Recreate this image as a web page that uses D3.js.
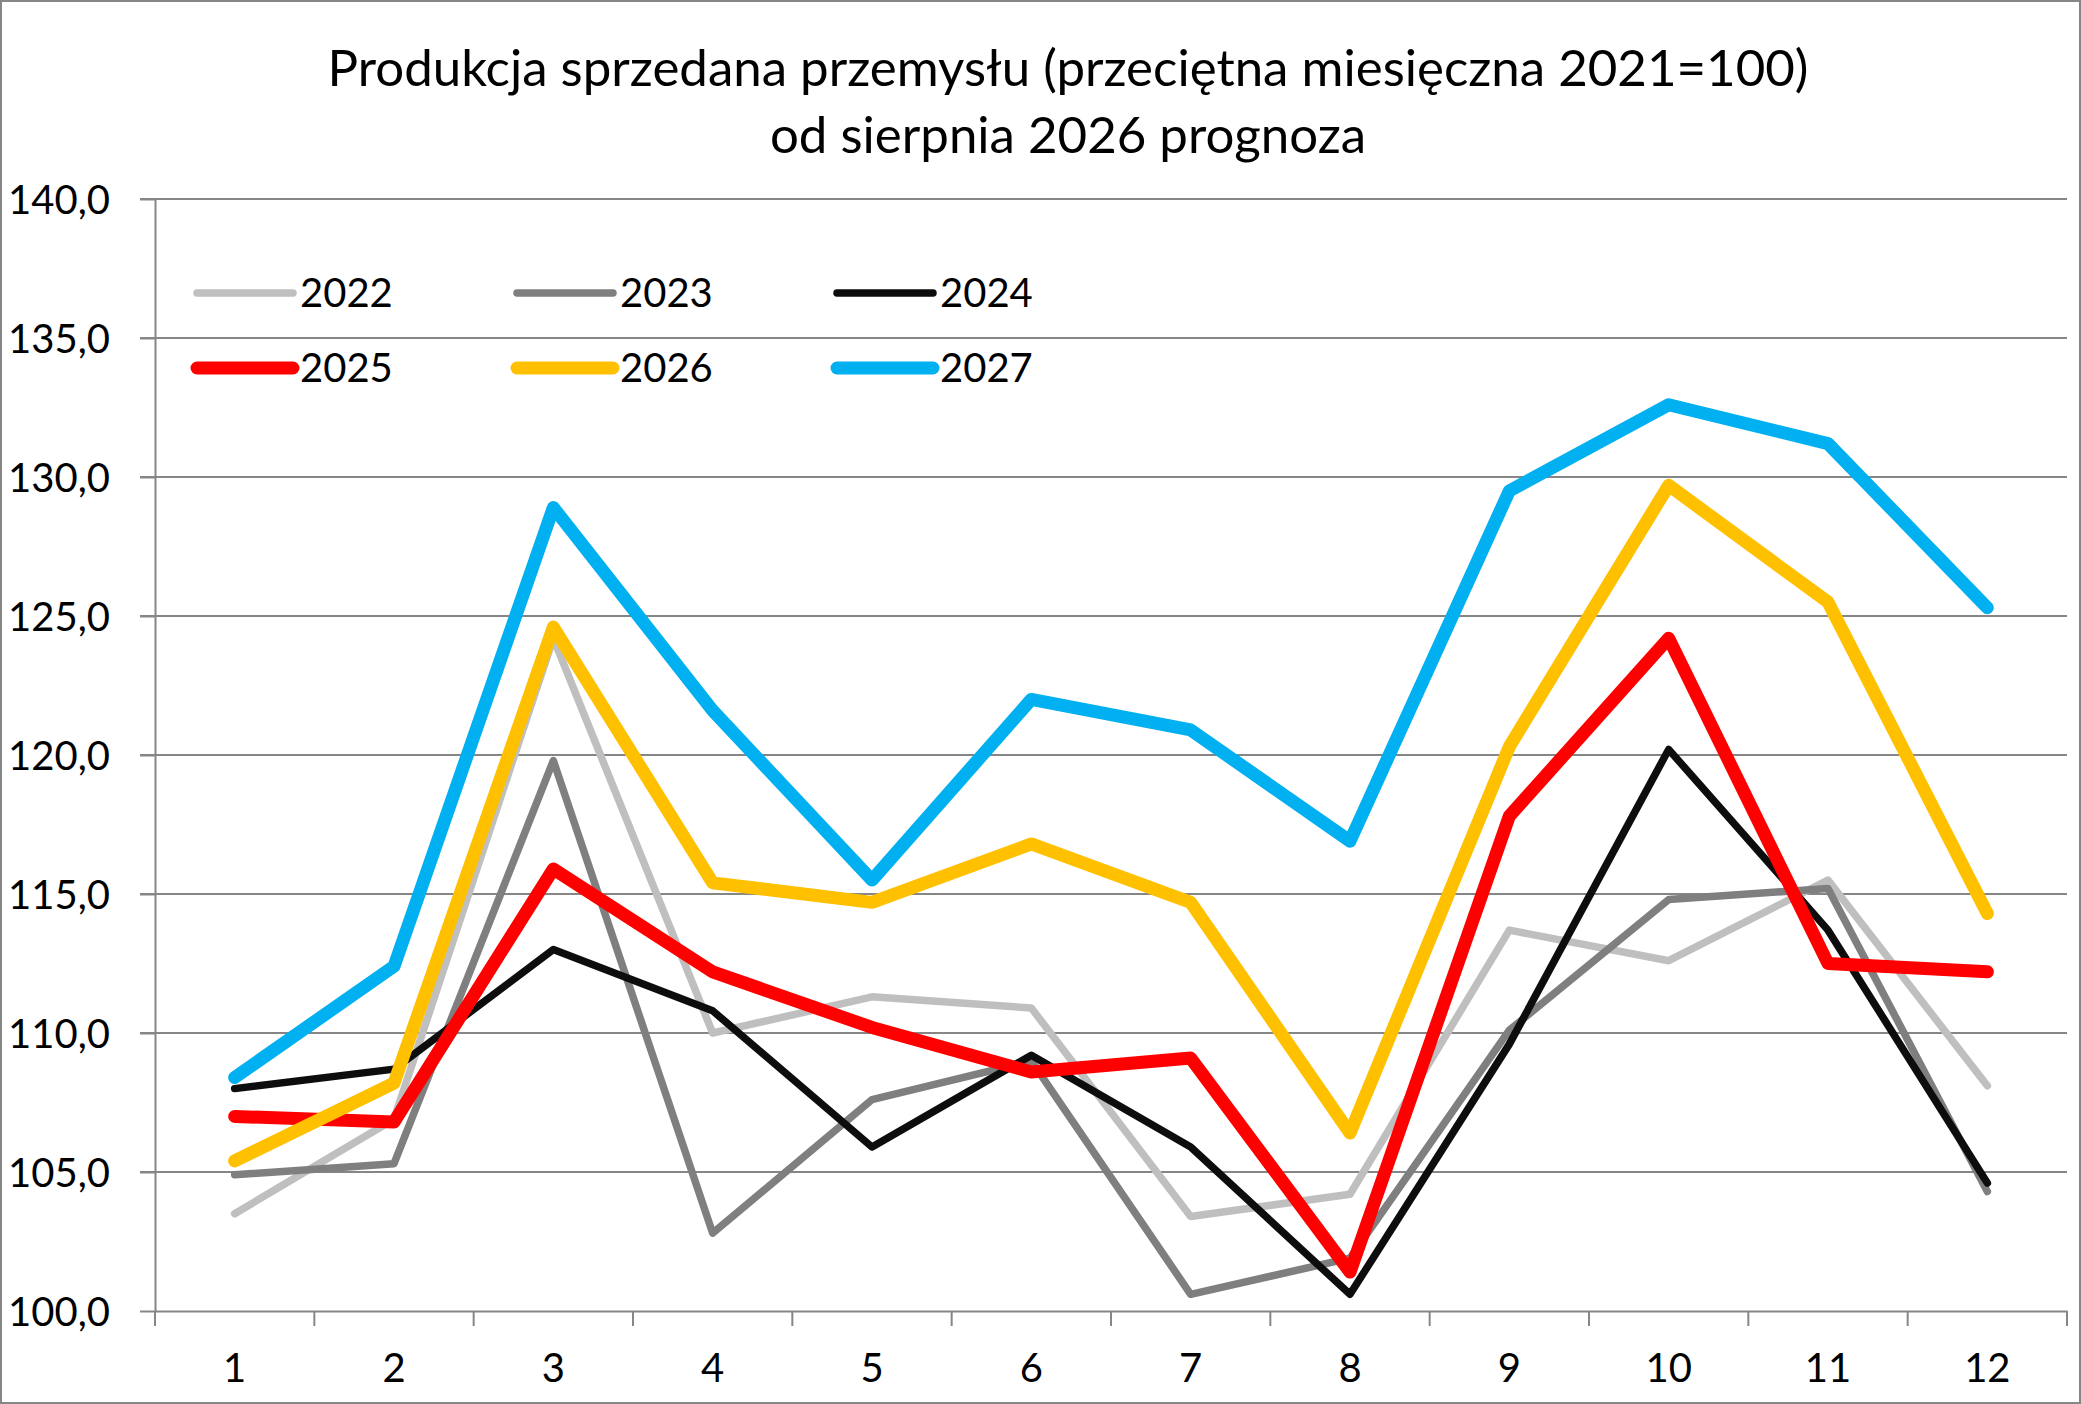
<!DOCTYPE html>
<html lang="pl">
<head>
  <meta charset="UTF-8">
  <title>Produkcja sprzedana przemysłu</title>
  <script src="https://d3js.org/d3.v7.min.js"></script>
  <style>
    body { margin: 0; background: #fff; }
    svg { display: block; font-family: Lato, "Open Sans", sans-serif; }
    .grid line { stroke: #868686; stroke-width: 2px; }
    .axis path, .axis line { stroke: #868686; stroke-width: 2px; }
    .axis text { fill: #000; font-size: 40px; font-family: Lato, "Open Sans", sans-serif; }
    .series { fill: none; stroke-linejoin: round; stroke-linecap: round; }
  </style>
</head>
<body>
<svg width="2081" height="1404"></svg>
<script>
  // miesiące i serie
  const months = [1, 2, 3, 4, 5, 6, 7, 8, 9, 10, 11, 12];
  const years = ["2022", "2023", "2024", "2025", "2026", "2027"];
  const d2022 = [103.5, 106.9, 124.2, 110.0, 111.3, 110.9, 103.4, 104.2, 113.7, 112.6, 115.5, 108.1];
  const d2023 = [104.9, 105.3, 119.8, 102.8, 107.6, 109.0, 100.6, 101.9, 110.1, 114.8, 115.2, 104.3];
  const d2024 = [108.0, 108.7, 113.0, 110.8, 105.9, 109.2, 105.9, 100.6, 109.6, 120.2, 113.7, 104.6];
  const d2025 = [107.0, 106.8, 115.9, 112.2, 110.2, 108.6, 109.1, 101.4, 117.8, 124.2, 112.5, 112.2];
  const d2026 = [105.4, 108.2, 124.6, 115.4, 114.7, 116.8, 114.7, 106.4, 120.3, 129.7, 125.5, 114.3];
  const d2027 = [108.4, 112.4, 128.9, 121.6, 115.5, 122.0, 120.9, 116.9, 129.5, 132.6, 131.2, 125.3];
  const yTicks = [100, 105, 110, 115, 120, 125, 130, 135, 140];
  const colors = ["#BFBFBF", "#7F7F7F", "#0D0D0D", "#FF0000", "#FFC000", "#00B0F0"];
  const widths = [7.5, 7.5, 7.5, 13, 13, 13];
  const seriesValues = [d2022, d2023, d2024, d2025, d2026, d2027];

  const svg = d3.select("svg");
  const W = 2081, H = 1404;
  const margin = {top: 199, right: 14, bottom: 93, left: 155};
  const width = W - margin.left - margin.right,
        height = H - margin.top - margin.bottom;

  // ramka wykresu
  svg.append("rect")
    .attr("x", 1).attr("y", 1).attr("width", W - 2).attr("height", H - 2)
    .attr("fill", "#fff").attr("stroke", "#868686").attr("stroke-width", 2);

  // tytuł
  const title = svg.append("text")
    .attr("x", 1068).attr("y", 86)
    .attr("text-anchor", "middle")
    .attr("font-size", 51)
    .attr("fill", "#000");
  title.append("tspan").attr("x", 1068).text("Produkcja sprzedana przemysłu (przeciętna miesięczna 2021=100)");
  title.append("tspan").attr("x", 1068).attr("dy", 67).text("od sierpnia 2026 prognoza");

  const g = svg.append("g").attr("transform", `translate(${margin.left},${margin.top})`);

  const x = d3.scaleBand().domain(months).range([0, width]);
  const y = d3.scaleLinear().domain([100, 140]).range([height, 0]);

  // linie siatki
  g.append("g").attr("class", "grid")
    .selectAll("line")
    .data(yTicks.filter(d => d > 100))
    .join("line")
    .attr("x1", -15).attr("x2", width)
    .attr("y1", d => y(d)).attr("y2", d => y(d));

  // oś Y
  const yAxis = g.append("g").attr("class", "axis")
    .call(d3.axisLeft(y).tickValues(yTicks).tickSize(15).tickSizeOuter(0)
      .tickFormat(d => d3.format(".1f")(d).replace(".", ",")));
  yAxis.attr("font-family", null).attr("font-size", null);
  yAxis.selectAll("text").attr("x", -45).attr("dy", "0.35em");

  // oś X — podziałki między kategoriami
  const xAxis = g.append("g").attr("class", "axis")
    .attr("transform", `translate(0,${height})`)
    .call(d3.axisBottom(x).tickSize(0).tickSizeOuter(0));
  xAxis.attr("font-family", null).attr("font-size", null);
  xAxis.selectAll("text").attr("y", 57).attr("dy", "0.35em");
  xAxis.selectAll(".tickmark")
    .data(d3.range(0, months.length + 1))
    .join("line")
    .attr("class", "tickmark")
    .attr("x1", i => i * x.step()).attr("x2", i => i * x.step())
    .attr("y1", 0).attr("y2", 15)
    .attr("stroke", "#868686").attr("stroke-width", 2);

  // serie
  const line = d3.line()
    .x((d, i) => x(months[i]) + x.bandwidth() / 2)
    .y(d => y(d));

  g.selectAll(".series")
    .data(seriesValues)
    .join("path")
    .attr("class", "series")
    .attr("stroke", (d, i) => colors[i])
    .attr("stroke-width", (d, i) => widths[i])
    .attr("d", line);

  // legenda
  const legend = svg.append("g");
  const item = legend.selectAll("g")
    .data(years)
    .join("g")
    .attr("transform", (d, i) => `translate(${197 + (i % 3) * 320},${293 + Math.floor(i / 3) * 75})`);
  item.append("line")
    .attr("x1", 0).attr("x2", 96)
    .attr("stroke", (d, i) => colors[i])
    .attr("stroke-width", (d, i) => widths[i])
    .attr("stroke-linecap", "round");
  item.append("text")
    .attr("x", 103).attr("dy", "0.35em")
    .attr("font-size", 40)
    .attr("fill", "#000")
    .text(d => d);
</script>
</body>
</html>
